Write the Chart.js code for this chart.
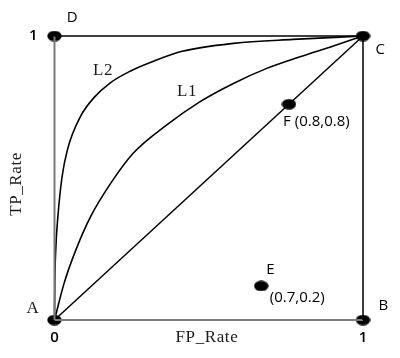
<!DOCTYPE html>
<html><head><meta charset="utf-8">
<script src="https://cdn.jsdelivr.net/npm/chart.js@4"></script>
<style>html,body{margin:0;padding:0;background:#fff}</style></head>
<body><canvas id="c" width="400" height="358"></canvas>
<script>
// ---- data ----
const pointNames = ['A', 'B', 'C', 'D', 'E', 'F'];
const pointX = [0, 1, 1, 0, 0.67, 0.76];
const pointY = [0, 0, 1, 1, 0.12, 0.76];
const diagX = [0, 1];
const diagY = [0, 1];
const l1X = [0, 0.031, 0.069, 0.117, 0.182, 0.255, 0.364, 0.472, 0.58, 0.688, 0.796, 0.904, 1];
const l1Y = [0, 0.129, 0.246, 0.364, 0.481, 0.587, 0.687, 0.769, 0.833, 0.886, 0.927, 0.965, 1];
const l2X = [0, 0.001, 0.004, 0.011, 0.024, 0.042, 0.085, 0.128, 0.182, 0.247, 0.323, 0.414, 0.58, 0.773, 1];
const l2Y = [0, 0.13, 0.246, 0.364, 0.5, 0.6, 0.718, 0.783, 0.836, 0.877, 0.912, 0.946, 0.974, 0.988, 1];
const xTicks = [0, 1];
const yTicks = [1];
const xTitle = 'FP_Rate';
const yTitle = 'TP_Rate';
const curveNames = ['L1', 'L2'];
const coordTexts = ['(0.7,0.2)', 'F (0.8,0.8)'];

const pts = (xs, ys) => xs.map((x, i) => ({x, y: ys[i]}));

// ellipse marker
const mk = document.createElement('canvas');
mk.width = 15; mk.height = 11;
const mctx = mk.getContext('2d');
mctx.fillStyle = '#000';
mctx.beginPath(); mctx.ellipse(7.5, 5.5, 7.2, 5.2, 0, 0, Math.PI * 2); mctx.fill();

const SANS = '"Open Sans", sans-serif';
const SERIF = '"Liberation Serif", serif';

// annotation placement (data coordinates)
const annotations = [
  {t: pointNames[0], x: -0.07, y: 0.04, f: SERIF, s: 17},
  {t: pointNames[1], x: 1.066, y: 0.05, f: SANS, s: 15},
  {t: pointNames[2], x: 1.056, y: 0.95, f: SANS, s: 15},
  {t: pointNames[3], x: 0.057, y: 1.063, f: SANS, s: 15},
  {t: pointNames[4], x: 0.70, y: 0.176, f: SANS, s: 15},
  {t: coordTexts[0], x: 0.698, y: 0.077, f: SANS, s: 15, a: 'left'},
  {t: coordTexts[1], x: 0.741, y: 0.698, f: SANS, s: 15, a: 'left'},
  {t: curveNames[0], x: 0.43, y: 0.804, f: SERIF, s: 17},
  {t: curveNames[1], x: 0.157, y: 0.878, f: SERIF, s: 17},
  {t: xTitle, x: 0.494, y: -0.06, f: SERIF, s: 17},
  {t: yTitle, x: -0.122, y: 0.479, f: SERIF, s: 17, r: true}
];

const textPlugin = {
  id: 'texts',
  afterDatasetsDraw(chart) {
    const ctx = chart.ctx, xs = chart.scales.x, ys = chart.scales.y;
    ctx.save();
    ctx.textBaseline = 'middle';
    annotations.forEach(a => {
      const px = xs.getPixelForValue(a.x), py = ys.getPixelForValue(a.y);
      ctx.font = a.s + 'px ' + a.f;
      ctx.fillStyle = a.f === SERIF ? '#1a1a1a' : '#000';
      ctx.letterSpacing = a.f === SERIF ? '0.6px' : '0px';
      ctx.textAlign = a.a || 'center';
      if (a.r) {
        ctx.save(); ctx.translate(px, py); ctx.rotate(-Math.PI / 2);
        ctx.fillText(a.t, 0, 0); ctx.restore();
      } else ctx.fillText(a.t, px, py);
    });
    ctx.restore();
  }
};

const line = (data, color, w, mono) => ({
  type: 'scatter', data, showLine: true, borderColor: color, borderWidth: w,
  pointRadius: 0, pointHoverRadius: 0, fill: false, clip: false,
  cubicInterpolationMode: mono ? 'monotone' : 'default', tension: 0
});

new Chart(document.getElementById('c'), {
  type: 'scatter',
  data: {
    datasets: [
      line(pts([0, 1], [1, 1]), '#000', 1.5),
      line(pts([1, 1], [1, 0]), '#000', 1.5),
      line(pts([0, 0], [0, 1]), '#7a7a7a', 2),
      line(pts([0, 1], [0, 0]), '#7a7a7a', 2),
      line(pts(diagX, diagY), '#000', 1.5),
      line(pts(l1X, l1Y), '#000', 1.6, true),
      line(pts(l2X, l2Y), '#000', 1.6, true),
      {type: 'scatter', data: pts(pointX, pointY), pointStyle: mk, pointRadius: 7, clip: false}
    ]
  },
  options: {
    responsive: false, animation: false, devicePixelRatio: 1,
    layout: {padding: {left: 10, top: 36, right: 37, bottom: 10}},
    plugins: {legend: {display: false}, tooltip: {enabled: false}},
    scales: {
      x: {
        type: 'linear', min: 0, max: 1,
        grid: {display: false, drawTicks: false}, border: {display: false},
        afterBuildTicks: s => { s.ticks = xTicks.map(v => ({value: v})); },
        afterFit: s => { s.height = 28; },
        ticks: {padding: 9, color: '#000', font: {family: 'Open Sans', size: 15, weight: '600'}}
      },
      y: {
        type: 'linear', min: 0, max: 1,
        grid: {display: false, drawTicks: false}, border: {display: false},
        afterBuildTicks: s => { s.ticks = yTicks.map(v => ({value: v})); },
        afterFit: s => { s.width = 44.5; },
        ticks: {padding: 17, color: '#000', font: {family: 'Open Sans', size: 15, weight: '600'}}
      }
    }
  },
  plugins: [textPlugin]
});
</script>
</body></html>
